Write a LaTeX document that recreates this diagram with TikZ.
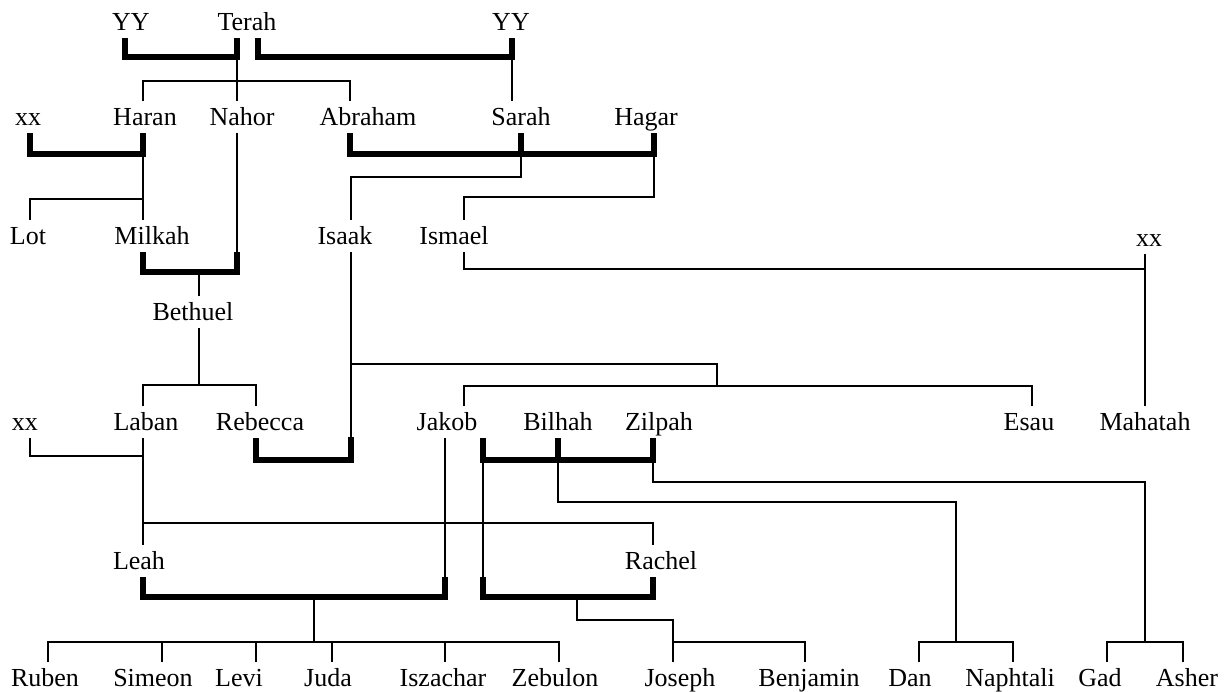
\documentclass[tikz,border=0pt]{standalone}
\usepackage{fontspec}
\setmainfont{Liberation Serif}
\tikzset{
  person/.style={font=\fontsize{26}{31}\selectfont, inner sep=0pt, outer xsep=0pt,
    outer ysep=7.5pt, text height=17.2pt, text depth=0pt},
  kin/.style={line width=1.8pt},
  wed/.style={line width=5.6pt, line join=miter},
}
\begin{document}
\begin{tikzpicture}[x=1pt,y=-1pt]
\useasboundingbox (0,0) rectangle (1225,691);

% Terah and his wives
\node[person] (yyA) at (131,22) {YY};
\node[person] (terah) at (247,22) {Terah};
\node[person] (yyB) at (511,22) {YY};

% Terah's children
\node[person] (xxA) at (28,117) {xx};
\node[person] (haran) at (145,117) {Haran};
\node[person] (nahor) at (242,117) {Nahor};
\node[person] (abraham) at (368,117) {Abraham};
\node[person] (sarah) at (521,117) {Sarah};
\node[person] (hagar) at (646,117) {Hagar};

\node[person] (lot) at (28,236) {Lot};
\node[person] (milkah) at (152,236) {Milkah};
\node[person] (isaak) at (345,236) {Isaak};
\node[person] (ismael) at (454,236) {Ismael};
\node[person] (xxB) at (1149,238) {xx};

\node[person] (bethuel) at (193,312) {Bethuel};

\node[person] (xxC) at (25,422) {xx};
\node[person] (laban) at (146,422) {Laban};
\node[person] (rebecca) at (260,422) {Rebecca};
\node[person] (jakob) at (447,422) {Jakob};
\node[person] (bilhah) at (558,422) {Bilhah};
\node[person] (zilpah) at (659,422) {Zilpah};
\node[person] (esau) at (1029,422) {Esau};
\node[person] (mahatah) at (1145,422) {Mahatah};

\node[person] (leah) at (139,561) {Leah};
\node[person] (rachel) at (661,561) {Rachel};

% the twelve sons
\node[person] (ruben) at (45,678) {Ruben};
\node[person] (simeon) at (153,678) {Simeon};
\node[person] (levi) at (239,678) {Levi};
\node[person] (juda) at (328,678) {Juda};
\node[person] (iszachar) at (443,678) {Iszachar};
\node[person] (zebulon) at (555,678) {Zebulon};
\node[person] (joseph) at (680,678) {Joseph};
\node[person] (benjamin) at (809,678) {Benjamin};
\node[person] (dan) at (910,678) {Dan};
\node[person] (naphtali) at (1010,678) {Naphtali};
\node[person] (gad) at (1100,678) {Gad};
\node[person] (asher) at (1187,678) {Asher};

% marriages of Terah
\draw[wed] (yyA.south -| 125,0) -- (125,57) -- (237,57) -- (terah.south -| 237,0);
\draw[wed] (terah.south -| 258,0) -- (258,57) -- (512,57) -- (yyB.south -| 512,0);
\draw[kin] (237,57) -- (nahor.north -| 237,0);
\draw[kin] (haran.north -| 143,0) -- (143,81) -- (350,81) -- (abraham.north -| 350,0);
\draw[kin] (512,57) -- (sarah.north -| 512,0);

% Haran, Abraham
\draw[wed] (xxA.south -| 30,0) -- (30,154) -- (143,154) -- (haran.south -| 143,0);
\draw[wed] (abraham.south -| 350,0) -- (350,154) -- (654,154) -- (hagar.south -| 654,0);
\draw[wed] (sarah.south -| 521,0) -- (521,154);
\draw[kin] (143,154) -- (milkah.north -| 143,0);
\draw[kin] (143,199) -- (30,199) -- (lot.north -| 30,0);
\draw[kin] (521,154) -- (521,177) -- (351,177) -- (isaak.north -| 351,0);
\draw[kin] (654,154) -- (654,197) -- (464,197) -- (ismael.north -| 464,0);

% Nahor and Milkah
\draw[kin] (nahor.south -| 237,0) -- (237,252);
\draw[wed] (milkah.south -| 143,0) -- (143,272) -- (237,272) -- (237,252);
\draw[kin] (199,272) -- (bethuel.north -| 199,0);
\draw[kin] (bethuel.south -| 199,0) -- (199,385);
\draw[kin] (laban.north -| 143,0) -- (143,385) -- (256,385) -- (rebecca.north -| 256,0);

% Isaak and Rebecca
\draw[kin] (isaak.south -| 351,0) -- (351,437);
\draw[wed] (rebecca.south -| 256,0) -- (256,460) -- (351,460) -- (351,437);
\draw[kin] (351,364) -- (717,364) -- (717,386);
\draw[kin] (jakob.north -| 464,0) -- (464,386) -- (1032,386) -- (esau.north -| 1032,0);

% Ismael
\draw[kin] (ismael.south -| 464,0) -- (464,269) -- (1145,269);
\draw[kin] (xxB.south -| 1145,0) -- (mahatah.north -| 1145,0);

% Laban
\draw[kin] (xxC.south -| 30,0) -- (30,456) -- (143,456);
\draw[kin] (laban.south -| 143,0) -- (leah.north -| 143,0);
\draw[kin] (143,523) -- (653,523) -- (rachel.north -| 653,0);

% Jakob and his wives
\draw[kin] (jakob.south -| 445,0) -- (445,577);
\draw[wed] (leah.south -| 143,0) -- (143,597) -- (445,597) -- (445,577);
\draw[wed] (jakob.south -| 483,0) -- (483,460) -- (653,460) -- (zilpah.south -| 653,0);
\draw[wed] (bilhah.south -| 558,0) -- (558,460);
\draw[kin] (483,460) -- (483,577);
\draw[wed] (483,577) -- (483,597) -- (653,597) -- (rachel.south -| 653,0);

% sons of Leah
\draw[kin] (314,597) -- (314,642);
\draw[kin] (ruben.north -| 48,0) -- (48,642) -- (559,642) -- (zebulon.north -| 559,0);
\foreach \kid/\x in {simeon/162, levi/256, juda/332, iszachar/445}
  \draw[kin] (\x,642) -- (\kid.north -| \x,0);

% sons of Rachel
\draw[kin] (577,597) -- (577,620) -- (673,620) -- (joseph.north -| 673,0);
\draw[kin] (673,642) -- (805,642) -- (benjamin.north -| 805,0);

% sons of Bilhah
\draw[kin] (558,460) -- (558,502) -- (956,502) -- (956,642);
\draw[kin] (dan.north -| 919,0) -- (919,642) -- (1013,642) -- (naphtali.north -| 1013,0);

% sons of Zilpah
\draw[kin] (653,460) -- (653,482) -- (1145,482) -- (1145,642);
\draw[kin] (gad.north -| 1107,0) -- (1107,642) -- (1183,642) -- (asher.north -| 1183,0);
\end{tikzpicture}
\end{document}
